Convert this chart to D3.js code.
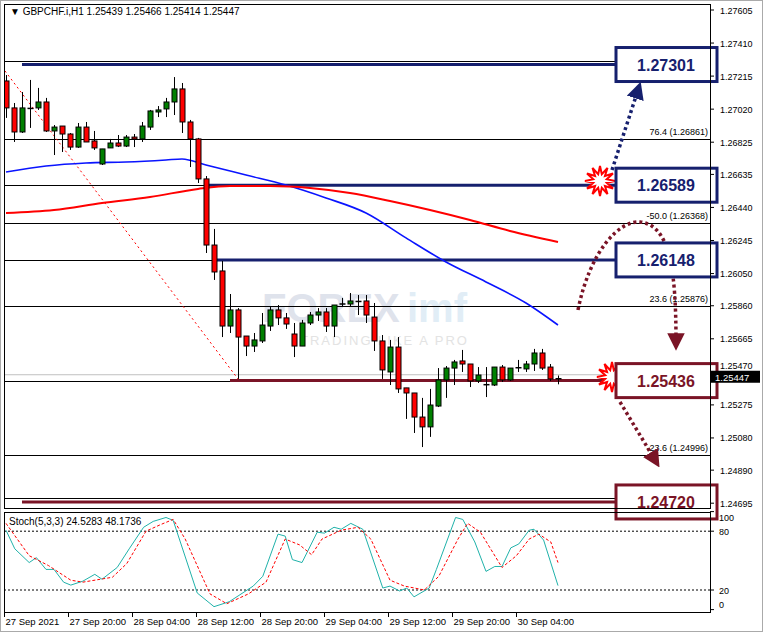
<!DOCTYPE html>
<html><head><meta charset="utf-8">
<script src="https://cdn.jsdelivr.net/npm/d3@7"></script>
<style>body{margin:0;background:#fff}svg{display:block;font-family:"Liberation Sans",Arial,sans-serif}</style>
</head><body><svg id="c" width="763" height="632"></svg>
<script>
const opens=[1.27204,1.27045,1.26903,1.27045,1.27045,1.27080,1.26909,1.26938,1.26891,1.26814,1.26932,1.26850,1.26714,1.26809,1.26838,1.26820,1.26873,1.26862,1.26932,1.27021,1.27039,1.27080,1.27157,1.26962,1.26862,1.26626,1.26236,1.26083,1.25758,1.25853,1.25699,1.25640,1.25670,1.25758,1.25853,1.25806,1.25711,1.25640,1.25776,1.25823,1.25841,1.25758,1.25882,1.25888,1.25906,1.25906,1.25811,1.25670,1.25487,1.25634,1.25393,1.25363,1.25221,1.25163,1.25286,1.25440,1.25510,1.25552,1.25534,1.25434,1.25410,1.25410,1.25516,1.25440,1.25510,1.25505,1.25534,1.25599,1.25516,1.25439];
const highs=[1.27239,1.27074,1.27139,1.27210,1.27163,1.27104,1.26944,1.26938,1.26897,1.26956,1.26962,1.26909,1.26803,1.26862,1.26885,1.26885,1.26891,1.26962,1.27033,1.27056,1.27104,1.27227,1.27192,1.26974,1.26868,1.26643,1.26331,1.26142,1.25947,1.25864,1.25699,1.25717,1.25835,1.25870,1.25882,1.25835,1.25776,1.25794,1.25841,1.25864,1.25864,1.25882,1.25924,1.25953,1.25941,1.25941,1.25894,1.25705,1.25676,1.25693,1.25393,1.25363,1.25334,1.25387,1.25510,1.25522,1.25558,1.25617,1.25534,1.25516,1.25516,1.25516,1.25528,1.25510,1.25558,1.25552,1.25623,1.25623,1.25534,1.25466];
const lows=[1.26986,1.26844,1.26897,1.26927,1.27033,1.26903,1.26767,1.26785,1.26797,1.26809,1.26844,1.26797,1.26708,1.26809,1.26814,1.26814,1.26814,1.26844,1.26915,1.26991,1.26991,1.27003,1.26897,1.26696,1.26602,1.26189,1.26030,1.25693,1.25717,1.25446,1.25581,1.25605,1.25658,1.25729,1.25764,1.25741,1.25575,1.25640,1.25764,1.25788,1.25723,1.25693,1.25870,1.25876,1.25823,1.25776,1.25611,1.25446,1.25410,1.25363,1.25210,1.25127,1.25044,1.25104,1.25280,1.25334,1.25410,1.25487,1.25398,1.25422,1.25339,1.25404,1.25428,1.25434,1.25487,1.25487,1.25493,1.25499,1.25434,1.25414];
const closes=[1.27045,1.26903,1.27045,1.27042,1.27080,1.26909,1.26932,1.26891,1.26814,1.26932,1.26844,1.26809,1.26803,1.26838,1.26820,1.26873,1.26862,1.26938,1.27027,1.27033,1.27080,1.27157,1.26962,1.26862,1.26626,1.26236,1.26077,1.25758,1.25853,1.25693,1.25640,1.25676,1.25764,1.25853,1.25806,1.25770,1.25640,1.25776,1.25823,1.25841,1.25758,1.25882,1.25888,1.25906,1.25903,1.25823,1.25670,1.25499,1.25634,1.25387,1.25363,1.25221,1.25163,1.25292,1.25440,1.25510,1.25546,1.25534,1.25434,1.25469,1.25412,1.25516,1.25440,1.25510,1.25512,1.25534,1.25599,1.25510,1.25446,1.25447];
const blueIdx=[0,5,10,15,20,22,25,30,35,40,45,50,55,60,65,69];
const blueMA=[1.26667,1.26702,1.26720,1.26726,1.26738,1.26744,1.26708,1.26649,1.26590,1.26514,1.26425,1.26278,1.26136,1.26018,1.25894,1.25764];
const redIdx=[0,6,12,18,24,28,33,38,43,48,53,58,63,69];
const redMA=[1.26425,1.26443,1.26484,1.26519,1.26567,1.26584,1.26584,1.26573,1.26543,1.26496,1.26443,1.26384,1.26319,1.26254];
const stochIdx=[0,1.1,2.9,3.8,5,6,7.2,8.1,9.6,11.1,12,13.9,15.4,17.2,18.4,20,20.9,23.9,26,27.9,30.9,32.1,34,34.9,35.8,37,38.9,39.8,41,41.9,43.1,44.6,47.1,48,49.2,50.1,51,52.9,53.8,56.2,57.1,58.6,60,61.1,62,63.1,64.1,65.4,66,67.2,69];
const stochK=[81,62,48,53,41,41,28,25,29,36,31,43,62,84,90,94,91,17,3,8,24,34,77,75,51,48,79,78,84,82,88,82,22,24,19,22,13,22,41,94,92,69,39,44,44,63,67,81,82,71,24.5];
const sigIdx=[0,2.9,5.3,8.1,9.6,13.3,15.1,17.5,19.4,20.9,22.4,25.5,27.6,30.3,32.5,34.9,36.7,38.2,39.5,41.9,44,45.6,48,49.8,52.3,54.1,56.5,57.7,59.3,62,63.8,65.4,66.6,68.1,69];
const stochD=[88,55,45,30,28,33,47,80,87,92,72,16,6,16,28,72,66,56,72,81,84,72,30,24,20,34,72,88,79,43,55,72,77,69,48];
const priceTicks=[1.27605,1.27410,1.27215,1.27020,1.26825,1.26635,1.26440,1.26245,1.26050,1.25860,1.25665,1.25470,1.25275,1.25080,1.24890,1.24695];
const timeIdx=[0,8,16,24,32,40,48,56,64];
const timeLabels=["27 Sep 2021","27 Sep 20:00","28 Sep 04:00","28 Sep 12:00","28 Sep 20:00","29 Sep 04:00","29 Sep 12:00","29 Sep 20:00","30 Sep 04:00"];
const fibLevels=[1.26861,1.26368,1.25876,1.24996];
const fibLabels=["76.4 (1.26861)","-50.0 (1.26368)","23.6 (1.25876)","-23.6 (1.24996)"];
const keyLevels=[1.27301,1.26589,1.26148,1.25436,1.24720];
const keyStart=[2,25,26,28,2];
const keyColor=["#16206e","#16206e","#16206e","#7a1426","#7a1426"];

const svg=d3.select("#c");
const L=4,R=710,T=4,B=508,ST=512,SB=612;
const x=d3.scaleLinear().domain([0,69]).range([6,558]);
const y=d3.scaleLinear().domain([1.27605,1.24695]).range([13,506.2]);
const ys=d3.scaleLinear().domain([0,100]).range([609.6,511.6]);

svg.append("rect").attr("x",0.5).attr("y",0.5).attr("width",762).attr("height",631).attr("fill","#fff").attr("stroke","#aaa");
svg.append("defs").append("clipPath").attr("id","cm").append("rect").attr("x",L).attr("y",T).attr("width",R-L).attr("height",B-T);
const g=svg.append("g").attr("clip-path","url(#cm)");

// watermark
g.append("text").attr("x",262).attr("y",322).attr("font-size",40).attr("font-weight","bold").attr("fill","#dfe3ec").text("FOREX");
g.append("text").attr("x",407).attr("y",322).attr("font-size",40).attr("font-weight","bold").attr("fill","#e1edf6").text("imf");
g.append("text").attr("x",300).attr("y",345).attr("font-size",13).attr("letter-spacing",2).attr("fill","#e3e3e3").text("TRADING LIKE A PRO");

// thin black level lines
[...fibLevels,1.26589,1.26148,1.25436].forEach(v=>g.append("line").attr("x1",L).attr("x2",R).attr("y1",Math.round(y(v))+0.5).attr("y2",Math.round(y(v))+0.5).attr("stroke","#000"));
[1.27301,1.24720].forEach(v=>g.append("line").attr("x1",L).attr("x2",R).attr("y1",Math.round(y(v))-3.5).attr("y2",Math.round(y(v))-3.5).attr("stroke","#000"));
g.append("line").attr("x1",L).attr("x2",R).attr("y1",y(1.25447)-4).attr("y2",y(1.25447)-4).attr("stroke","#c0c0c0");
fibLevels.forEach((v,i)=>g.append("text").attr("x",708).attr("y",y(v)-4).attr("text-anchor","end").attr("font-size",9).text(fibLabels[i]));
g.append("line").attr("x1",x(0)-1).attr("y1",y(1.27263)).attr("x2",x(29)).attr("y2",y(1.25446)).attr("stroke","#f00").attr("stroke-dasharray","2,3");
keyLevels.forEach((v,i)=>g.append("line").attr("x1",x(keyStart[i])).attr("x2",615).attr("y1",y(v)).attr("y2",y(v)).attr("stroke",keyColor[i]).attr("stroke-width",3));
const ln=d3.line().curve(d3.curveMonotoneX);
g.append("path").attr("d",ln(blueIdx.map((d,i)=>[x(d),y(blueMA[i])]))).attr("fill","none").attr("stroke","#0a14ff").attr("stroke-width",1.6);
g.append("path").attr("d",ln(redIdx.map((d,i)=>[x(d),y(redMA[i])]))).attr("fill","none").attr("stroke","#f00").attr("stroke-width",2);
closes.forEach((c,i)=>{const o=opens[i],cx=Math.round(x(i))+0.5;
 g.append("line").attr("x1",cx).attr("x2",cx).attr("y1",y(highs[i])).attr("y2",y(lows[i])).attr("stroke","#000");
 const t=Math.min(y(o),y(c)),h=Math.max(1,Math.abs(y(o)-y(c)));
 if(Math.abs(y(o)-y(c))<1.5) g.append("line").attr("x1",cx-3).attr("x2",cx+3).attr("y1",y(c)).attr("y2",y(c)).attr("stroke","#000").attr("stroke-width",1.5);
 else g.append("rect").attr("x",cx-2.5).attr("y",t).attr("width",5).attr("height",h).attr("fill",c>o?"#008000":"#ff0000").attr("stroke","#000");
});
const defs=svg.select("defs");
[["an","#16206e"],["am","#7a1426"]].forEach(([id,col])=>defs.append("marker").attr("id",id).attr("viewBox","0 0 10 10").attr("refX",5).attr("refY",5).attr("markerWidth",5).attr("markerHeight",5).attr("orient","auto").append("path").attr("d","M0,0L10,5L0,10z").attr("fill",col));
svg.append("path").attr("d","M612,170 L638,90").attr("stroke","#16206e").attr("stroke-width",3.5).attr("stroke-dasharray","3,3").attr("fill","none").attr("marker-end","url(#an)");
svg.append("path").attr("d","M578,310 C590,250 620,220 640,222 C670,225 676,270 676,342").attr("stroke","#7a1426").attr("stroke-width",3.5).attr("stroke-dasharray","3,3").attr("fill","none").attr("marker-end","url(#am)");
svg.append("path").attr("d","M620,402 L655,460").attr("stroke","#7a1426").attr("stroke-width",3.5).attr("stroke-dasharray","3,3").attr("fill","none").attr("marker-end","url(#am)");
function burst(cx,cy){const pts=[];for(let k=0;k<24;k++){const r=k%2?7:15,a=k*Math.PI/12;pts.push([cx+r*Math.cos(a),cy+r*Math.sin(a)]);}
 svg.append("path").attr("d",d3.line()(pts)+"Z").attr("fill","#fff").attr("stroke","#f00").attr("stroke-width",2);}
burst(600,181);burst(612,377);
keyLevels.forEach((v,i)=>{const cy=y(v);
 svg.append("rect").attr("x",616).attr("y",cy-17).attr("width",101).attr("height",34).attr("fill","#fff").attr("stroke",keyColor[i]).attr("stroke-width",3);
 svg.append("text").attr("x",666).attr("y",cy+6).attr("text-anchor","middle").attr("font-size",16).attr("font-weight","bold").attr("fill",keyColor[i]).text(v.toFixed(5));});
svg.append("rect").attr("x",L+0.5).attr("y",T+0.5).attr("width",R-L).attr("height",B-T).attr("fill","none").attr("stroke","#000");
svg.append("text").attr("x",10).attr("y",15).attr("font-size",10).text("▼ GBPCHF.i,H1  1.25439 1.25466 1.25414 1.25447");
priceTicks.forEach(v=>{let yy=y(v)-3;svg.append("line").attr("x1",R).attr("x2",R+4).attr("y1",yy).attr("y2",yy).attr("stroke","#000");
 if(v===1.25470) yy-=6;
 svg.append("text").attr("x",720).attr("y",yy+3.5).attr("font-size",9).text(v.toFixed(5));});
const cy0=y(1.25447)-3;
svg.append("rect").attr("x",711).attr("y",cy0-5).attr("width",49).attr("height",12).attr("fill","#000");
svg.append("text").attr("x",715).attr("y",cy0+5).attr("font-size",9.5).attr("fill","#fff").text("1.25447");
svg.append("rect").attr("x",L+0.5).attr("y",ST+0.5).attr("width",R-L).attr("height",SB-ST).attr("fill","none").attr("stroke","#000");
[80,20].forEach(v=>svg.append("line").attr("x1",L).attr("x2",R).attr("y1",ys(v)).attr("y2",ys(v)).attr("stroke","#000").attr("stroke-dasharray","2,2"));
[100,80,20,0].forEach(v=>{svg.append("text").attr("x",719).attr("y",ys(v)+ (v==100?9:v==0?-2:4)).attr("font-size",9).text(v);
 svg.append("line").attr("x1",R).attr("x2",R+4).attr("y1",ys(v)).attr("y2",ys(v)).attr("stroke","#000");});
const lnS=d3.line();
svg.append("path").attr("d",lnS(stochIdx.map((d,i)=>[x(d),ys(stochK[i])]))).attr("fill","none").attr("stroke","#20b2aa");
svg.append("path").attr("d",lnS(sigIdx.map((d,i)=>[x(d),ys(stochD[i])]))).attr("fill","none").attr("stroke","#f00").attr("stroke-dasharray","3,2");
svg.append("text").attr("x",9).attr("y",525).attr("font-size",10).text("Stoch(5,3,3) 24.5283 48.1736");
timeIdx.forEach((d,i)=>{const xx=Math.round(x(d))-1.5;svg.append("line").attr("x1",xx).attr("x2",xx).attr("y1",SB).attr("y2",SB+5).attr("stroke","#000");
 svg.append("text").attr("x",xx+1).attr("y",625).attr("font-size",9.5).text(timeLabels[i]);});
</script></body></html>
